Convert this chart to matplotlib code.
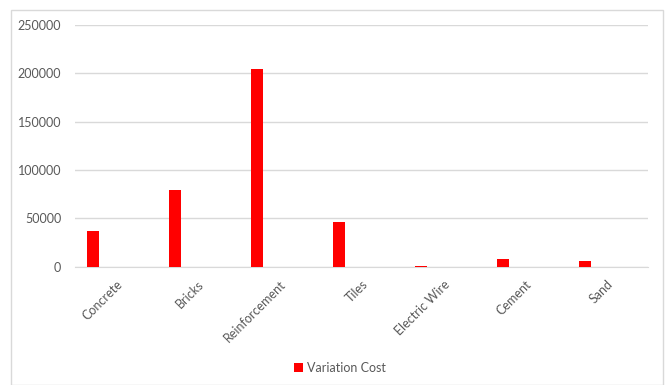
import matplotlib
matplotlib.use("Agg")
import matplotlib.pyplot as plt
from matplotlib.patches import Rectangle
import numpy as np

categories = ["Concrete", "Bricks", "Reinforcement", "Tiles", "Electric Wire", "Cement", "Sand"]
variation_cost = [37000, 79000, 204000, 46000, 1000, 7700, 5900]
yticks = [0, 50000, 100000, 150000, 200000, 250000]
series_name = "Variation Cost"

plt.rcParams['font.family'] = ['Lato', 'DejaVu Sans']
W, H = 670, 385
fig = plt.figure(figsize=(W/100, H/100), dpi=100)
fig.patch.set_facecolor('white')

# chart border
fig.add_artist(Rectangle((11/W, 0), (663-11)/W, (H-10)/H, transform=fig.transFigure,
                         fill=False, edgecolor='#d9d9d9', linewidth=1))

left, right = 75, 648
top, bottom = 25, 266.7
ax = fig.add_axes([left/W, 1-bottom/H, (right-left)/W, (bottom-top)/H])

x = np.arange(len(categories))
ax.bar(x - 0.275, variation_cost, width=0.147, color='#ff0000', label=series_name, zorder=3)

ax.set_xlim(-0.5, len(categories)-0.5)
ax.set_ylim(0, 250000)
ax.set_yticks(yticks)
ax.set_yticklabels([str(v) for v in yticks], color='#595959', fontsize=9)
ax.yaxis.grid(True, color='#d9d9d9', linewidth=1, zorder=0)
ax.tick_params(axis='both', length=0)
ax.tick_params(axis='y', pad=10)
ax.set_xticks(x)
ax.set_xticklabels(categories, rotation=45, ha='right', va='top', rotation_mode='anchor',
                   color='#595959', fontsize=9)
ax.tick_params(axis='x', pad=8)
for s in ['top', 'right', 'left']:
    ax.spines[s].set_visible(False)
ax.spines['bottom'].set_color('#d9d9d9')

fig.legend(loc='center', bbox_to_anchor=(340/W, 1-368/H), frameon=False, fontsize=9,
           handlelength=0.7, handleheight=0.7, handletextpad=0.3, labelcolor='#595959')

fig.savefig('out.png', dpi=100)
